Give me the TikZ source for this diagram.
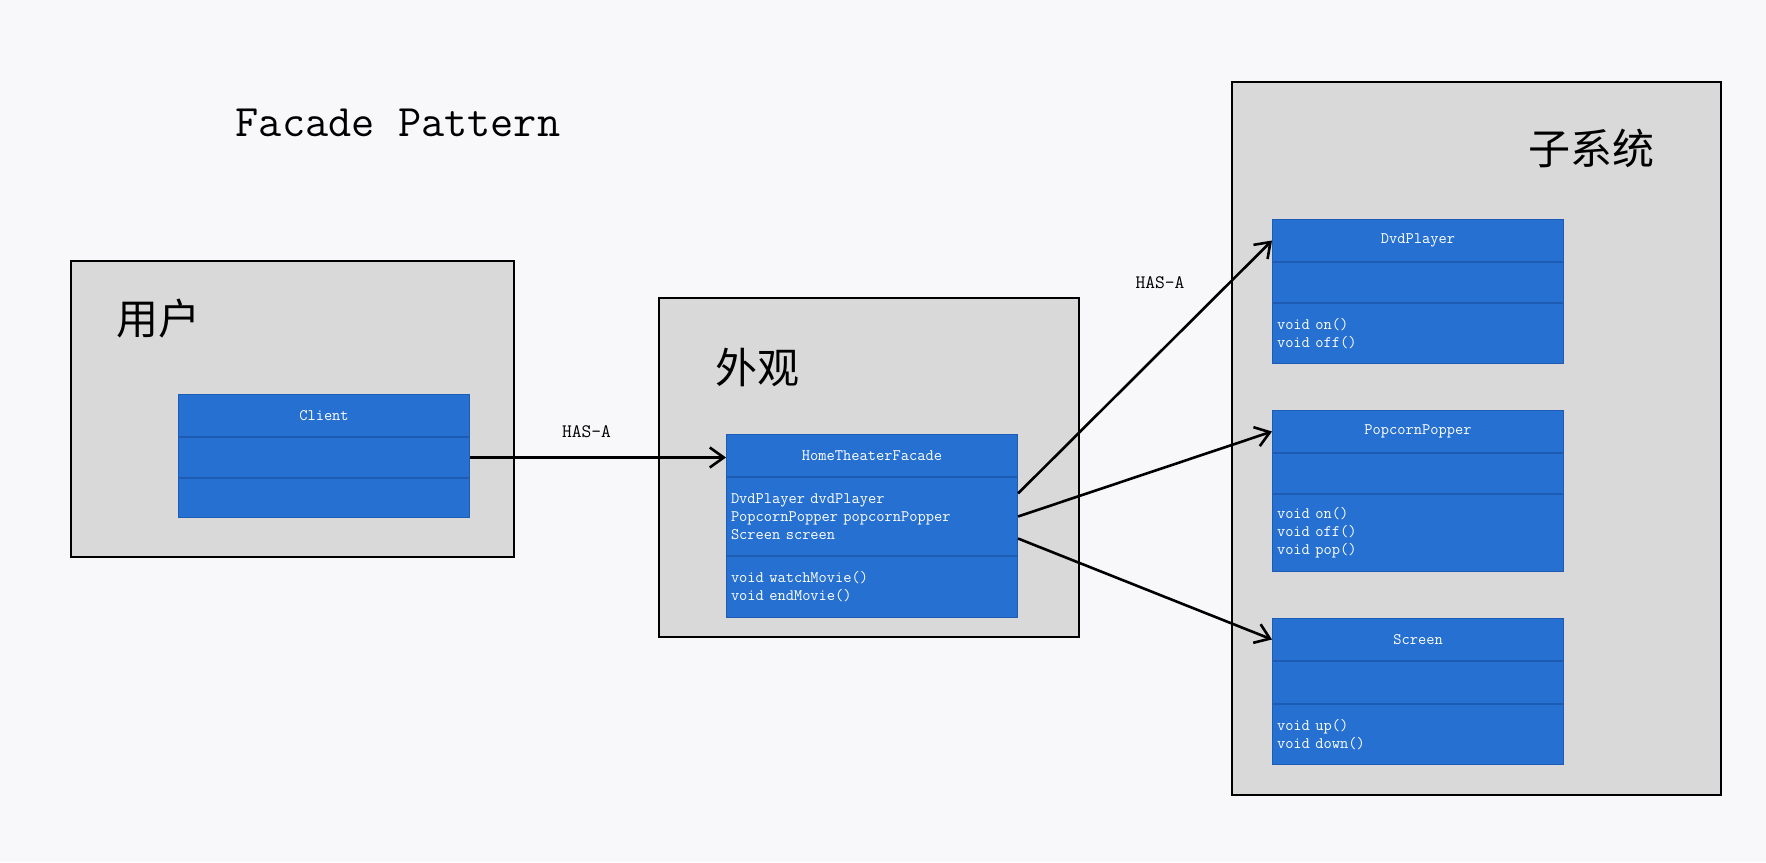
\documentclass[tikz,border=0pt]{standalone}
\usepackage{fontspec}
\newfontfamily\cjk{Noto Sans CJK SC}
\usetikzlibrary{positioning, arrows.meta}
\definecolor{bgpage}{HTML}{F8F8FA}
\definecolor{panegray}{HTML}{D9D9D9}
\definecolor{umlblue}{HTML}{2670D2}
\definecolor{umlline}{HTML}{1E5CB3}
\tikzset{pane/.style={draw=black, line width=1.3pt, fill=panegray, inner sep=0pt},
    classhead/.style={draw=umlline, line width=1pt, fill=umlblue, text=white,
        font=\ttfamily\fontsize{16}{18}\selectfont, minimum width=291pt, inner sep=0pt},
    classbody/.style={classhead, text width=282pt, align=left, inner xsep=4.5pt},
    hasa/.style={line width=2.6pt, -{Straight Barb[length=14pt,width=20pt]}},
    groupname/.style={font=\cjk\fontsize{42}{48}\selectfont, anchor=west, inner sep=0pt},
    relname/.style={font=\ttfamily\fontsize{19}{22}\selectfont, inner sep=0pt}}

\begin{document}
\begin{tikzpicture}[x=1pt, y=-1pt]
\fill[bgpage] (0,0) rectangle (1766,862);
\useasboundingbox (0,0) rectangle (1766,862);

\node[font=\ttfamily\fontsize{45}{50}\selectfont, anchor=base, inner sep=0pt] (title) at (398,136) {Facade Pattern};

% three groups
\node[pane, minimum width=443pt, minimum height=296pt] (user) at (292.5,409) {};
\node[pane, minimum width=420pt, minimum height=339pt] (facade) at (869,467.5) {};
\node[pane, minimum width=489pt, minimum height=713pt] (subsys) at (1476.5,438.5) {};
\node[groupname] (username) at (116,319) {用户};
\node[groupname] (facadename) at (715,367) {外观};
\node[groupname] (subsysname) at (1528,148) {子系统};

% client
\node[classhead, minimum height=42pt, anchor=north west] (clienthead) at (178,394) {Client};
\node[classbody, minimum height=40pt, below=0pt of clienthead] (clientattr) {};
\node[classbody, minimum height=39pt, below=0pt of clientattr] (clientops) {};

% facade
\node[classhead, minimum height=42pt, anchor=north west] (htfhead) at (726,434) {HomeTheaterFacade};
\node[classbody, minimum height=78pt, below=0pt of htfhead] (htfattr) {DvdPlayer dvdPlayer\\PopcornPopper popcornPopper\\Screen screen};
\node[classbody, minimum height=61pt, below=0pt of htfattr] (htfops) {void watchMovie()\\void endMovie()};

% subsystem classes
\node[classhead, minimum height=42pt, anchor=north west] (dvdhead) at (1272,219) {DvdPlayer};
\node[classbody, minimum height=40pt, below=0pt of dvdhead] (dvdattr) {};
\node[classbody, minimum height=60pt, below=0pt of dvdattr] (dvdops) {void on()\\void off()};

\node[classhead, minimum height=42pt, anchor=north west] (pophead) at (1272,410) {PopcornPopper};
\node[classbody, minimum height=40pt, below=0pt of pophead] (popattr) {};
\node[classbody, minimum height=77pt, below=0pt of popattr] (popops) {void on()\\void off()\\void pop()};

\node[classhead, minimum height=42pt, anchor=north west] (scrhead) at (1272,618) {Screen};
\node[classbody, minimum height=42pt, below=0pt of scrhead] (scrattr) {};
\node[classbody, minimum height=60pt, below=0pt of scrattr] (scrops) {void up()\\void down()};

% relations
\draw[hasa] (clientattr.east) -- (clientattr.east -| htfhead.west);
\draw[hasa] ([yshift=23pt]htfattr.east) -- (dvdhead.west);
\draw[hasa] (htfattr.east) -- (pophead.west);
\draw[hasa] ([yshift=-22pt]htfattr.east) -- (scrhead.west);
\node[relname] (hasa1) at (586.5,432) {HAS-A};
\node[relname] (hasa2) at (1160,283) {HAS-A};
\end{tikzpicture}
\end{document}
